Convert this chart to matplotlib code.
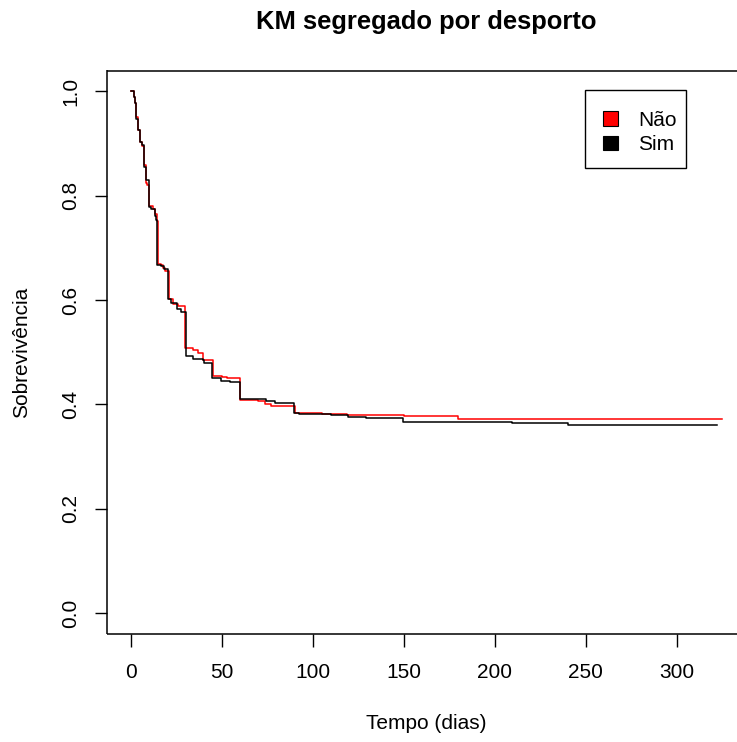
import numpy as np
import matplotlib.pyplot as plt
from matplotlib.patches import Patch, Rectangle

plt.rcParams['font.family'] = ['Liberation Sans', 'DejaVu Sans']

# Kaplan-Meier estimates by group (time in days, survival after each event)
tempo_nao = [0, 1.8, 2.4, 3.1, 4.2, 4.9, 6.3, 7.5, 8.2, 9.0, 10.2, 12, 13.5, 14.5,
             15, 16.5, 18, 19, 20.8, 23.5, 26, 30, 34, 37, 40, 45, 50, 53, 60,
             70, 74, 77, 90, 105, 119, 150, 180, 325]
surv_nao = [1.0, 0.99, 0.977, 0.95, 0.926, 0.903, 0.895, 0.858, 0.825, 0.82, 0.78,
            0.775, 0.765, 0.752, 0.67, 0.668, 0.662, 0.655, 0.603, 0.592, 0.588,
            0.509, 0.504, 0.499, 0.485, 0.454, 0.4525, 0.4506, 0.408, 0.406, 0.40,
            0.397, 0.384, 0.381, 0.379, 0.3775, 0.372, 0.372]

tempo_sim = [0, 1.8, 2.4, 3.1, 4.2, 4.9, 6.0, 7.3, 8.6, 10.0, 11.3, 13.2, 13.7,
             14.6, 16.5, 18.3, 20.5, 22.3, 25.6, 27.4, 30.2, 34.2, 39.7, 40.5,
             44.8, 49.8, 54.3, 59.8, 68.1, 74.5, 79.5, 89.5, 92.5, 110, 119.5,
             129.5, 149.5, 209.5, 240, 322]
surv_sim = [1.0, 0.99, 0.977, 0.948, 0.926, 0.903, 0.897, 0.855, 0.83, 0.778, 0.774,
            0.762, 0.753, 0.667, 0.665, 0.659, 0.602, 0.594, 0.583, 0.578, 0.493,
            0.488, 0.485, 0.479, 0.45, 0.445, 0.443, 0.411, 0.41, 0.406, 0.4025,
            0.384, 0.382, 0.3795, 0.3763, 0.3737, 0.366, 0.364, 0.361, 0.361]

grupos = ['Não', 'Sim']
cores = ['red', 'black']

fig = plt.figure(figsize=(7.37, 7.42), dpi=100)
W, H = 737, 742
# plot region runs past the right edge of the figure
ax = fig.add_axes([107 / W, (H - 634) / H, (746 - 107) / W, (634 - 70.5) / H])

ax.step(tempo_nao, surv_nao, where='post', color=cores[0], lw=1.1)
ax.step(tempo_sim, surv_sim, where='post', color=cores[1], lw=1.1)

ax.set_xlim(-13, 338)
ax.set_ylim(-0.04, 1.04)
ax.set_xticks(np.arange(0, 301, 50))
ax.set_yticks(np.arange(0, 1.01, 0.2))
ax.set_yticklabels([f'{v:.1f}' for v in np.arange(0, 1.01, 0.2)],
                   rotation=90, va='center')
ax.tick_params(direction='out', length=9, width=1, labelsize=15,
               colors='black')
ax.tick_params(axis='x', pad=12)
ax.tick_params(axis='y', pad=10)
for s in ax.spines.values():
    s.set_linewidth(1.1)
    s.set_capstyle('butt')

ax.set_title('KM segregado por desporto', fontsize=18.4, fontweight='bold', pad=30)
ax.set_xlabel('Tempo (dias)', fontsize=15, labelpad=23)
ax.set_ylabel('Sobrevivência', fontsize=15, labelpad=22)

# legend box drawn separately so the padding is uneven like base R
fig.patches.append(Rectangle((585 / W, 1 - 168 / H), 101 / W, 78 / H,
                             transform=fig.transFigure, facecolor='white',
                             edgecolor='black', lw=1.0, zorder=5))
handles = [Patch(facecolor=c, edgecolor='black', lw=0.8) for c in cores]
leg = fig.legend(handles, grupos, loc='upper left',
                 bbox_to_anchor=(603 / W, 1 - 111 / H),
                 bbox_transform=fig.transFigure,
                 fontsize=15, frameon=False,
                 handlelength=0.7, handleheight=0.7,
                 handletextpad=1.0, borderpad=0, labelspacing=0.25,
                 borderaxespad=0)
leg.set_zorder(6)

fig.savefig('out.png', dpi=100)
